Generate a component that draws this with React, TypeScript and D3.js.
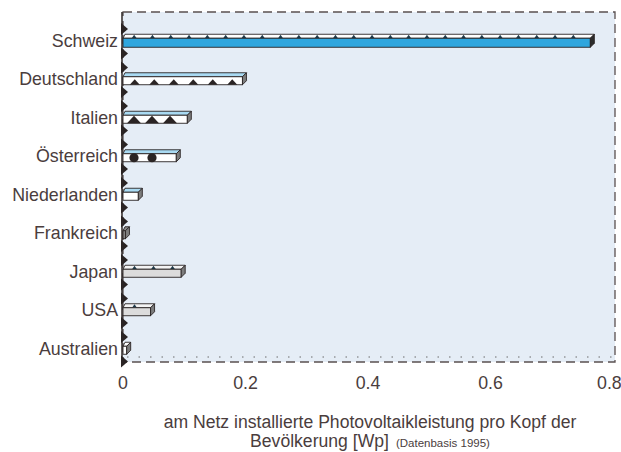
import React from 'react';
import * as d3 from 'd3';

const countries = ['Schweiz', 'Deutschland', 'Italien', 'Österreich', 'Niederlanden', 'Frankreich', 'Japan', 'USA', 'Australien'];
const values = [0.763, 0.195, 0.105, 0.087, 0.025, 0.004, 0.095, 0.045, 0.006];
// front pattern, top face colour, front face colour
const fronts = ['blue', 'tri', 'bigtri', 'dot', 'plain', 'plain', 'grey', 'grey', 'plain'];
const tops = ['#ffffff', '#a9daf2', '#a9daf2', '#a9daf2', '#a9daf2', '#8a8a8a', '#f4f4f4', '#f4f4f4', '#ffffff'];
const ticks = [0, 0.2, 0.4, 0.6, 0.8];

const W = 621;
const H = 452;
const left = 123;
const right = 615;
const top = 12;
const bottom = 362;
const ink = '#4a3d3d';
const DEPTH = 4;

const x = d3.scaleLinear().domain([0, 0.8]).range([left, left + 490]);
const y = d3.scaleBand<string>().domain(countries).range([21, 367.5]).paddingInner(0);

const Bar: React.FC<{ i: number }> = ({ i }) => {
  const c = countries[i];
  const cy = (y(c) ?? 0) + y.bandwidth() / 2;
  const x0 = x(0);
  const x1 = x(values[i]);
  const ft = cy - 2;
  const fh = fronts[i] === 'blue' ? 9 : 8;
  const fb = ft + fh;
  const kind = fronts[i];
  const frontFill = kind === 'blue' ? '#2fa6de' : kind === 'grey' ? '#dcdcdc' : kind === 'plain' && i === 5 ? '#8a8a8a' : '#ffffff';
  const topPath = `M${x0},${ft} L${x1},${ft} L${x1 + DEPTH},${ft - DEPTH} L${x0 + DEPTH * 0.5},${ft - DEPTH} Z`;
  const sidePath = `M${x1},${ft} L${x1 + DEPTH},${ft - DEPTH} L${x1 + DEPTH},${fb - DEPTH} L${x1},${fb} Z`;
  const glyphs: React.ReactNode[] = [];
  if (kind === 'tri' || kind === 'bigtri' || kind === 'dot') {
    const step = kind === 'tri' ? 19.5 : 18;
    const n = Math.floor((x1 - x0) / step);
    d3.range(n).forEach(k => {
      const gx = x0 + step * (k + 0.5) + 2;
      if (kind === 'tri') {
        glyphs.push(<path key={k} d={`M${gx - 5},${fb} L${gx},${fb - 5.5} L${gx + 5},${fb} Z`} fill="#2a2424" />);
      } else if (kind === 'bigtri') {
        glyphs.push(<path key={k} d={`M${gx - 7},${fb} L${gx},${ft + 0.5} L${gx + 7},${fb} Z`} fill="#2a2424" />);
      } else {
        glyphs.push(<circle key={k} cx={gx} cy={(ft + fb) / 2} r={4.6} fill="#2a2424" />);
      }
    });
  }
  const topDots: React.ReactNode[] = [];
  if (i === 0 || i === 6 || i === 7) {
    const step = i === 0 ? 18.3 : 19;
    const n = Math.floor((x1 - x0) / step);
    d3.range(n).forEach(k => {
      const gx = x0 + step * (k + 0.5) + 2;
      topDots.push(<path key={k} d={`M${gx - 2.5},${ft} L${gx},${ft - DEPTH + 0.5} L${gx + 2.5},${ft} Z`} fill="#1f3a4a" />);
    });
  }
  return (
    <g>
      <path d={topPath} fill={tops[i]} stroke="#2a2424" strokeWidth={0.9} />
      {topDots}
      <rect x={x0} y={ft} width={Math.max(x1 - x0, 0.5)} height={fh} fill={frontFill} stroke="#2a2424" strokeWidth={0.9} />
      {glyphs}
      <path d={sidePath} fill={i === 0 ? '#2c2c2c' : '#7d7d7d'} stroke="#2a2424" strokeWidth={0.9} />
    </g>
  );
};

const App: React.FC = () => {
  const step = y.step();
  const markers: number[] = [];
  countries.forEach(c => {
    const b = y(c) ?? 0;
    markers.push(b + 2, b + step - 12);
  });
  return (
    <svg width={W} height={H} style={{ position: 'absolute', left: 0, top: 0, fontFamily: '"Liberation Sans", Arial, sans-serif' }}>
      <rect x={0} y={0} width={W} height={H} fill="#ffffff" />
      <rect x={left} y={top} width={right - left} height={bottom - top} fill="#e5edf6" />
      <line x1={left + 4} x2={right - 2} y1={bottom - 5} y2={bottom - 5} stroke="#6a6a6a" strokeWidth={1} strokeDasharray="1.5 10" />
      <rect x={left} y={top} width={right - left} height={bottom - top} fill="none" stroke="#5a5050" strokeWidth={1.3} strokeDasharray="9 5" />
      <line x1={left - 1} x2={left - 1} y1={top} y2={bottom} stroke="#2a2424" strokeWidth={1.5} />
      {markers.map((m, k) => (
        <path key={k} d={`M${left - 2},${m} L${left + 5},${m + 6} L${left - 2},${m + 12} Z`} fill="#2a2424" />
      ))}
      {countries.map((_, i) => <Bar key={i} i={i} />)}
      {countries.map(c => (
        <text key={c} x={left - 5} y={(y(c) ?? 0) + y.bandwidth() / 2 + 6.5} textAnchor="end" fontSize={17.8} fill={ink}>{c}</text>
      ))}
      {ticks.map(t => (
        <text key={t} x={x(t)} y={389} textAnchor={t === 0.8 ? 'start' : 'middle'} dx={t === 0.8 ? -16 : 0} fontSize={17.8} fill={ink}>{t === 0 ? '0' : String(t)}</text>
      ))}
      <text x={370} y={428} textAnchor="middle" fontSize={17.6} fill={ink}>am Netz installierte Photovoltaikleistung pro Kopf der</text>
      <text x={370} y={447} textAnchor="middle" fontSize={17.6} fill={ink}>
        Bevölkerung [Wp]
        <tspan fontSize={11.5} dx={7}>(Datenbasis 1995)</tspan>
      </text>
    </svg>
  );
};

export default App;
